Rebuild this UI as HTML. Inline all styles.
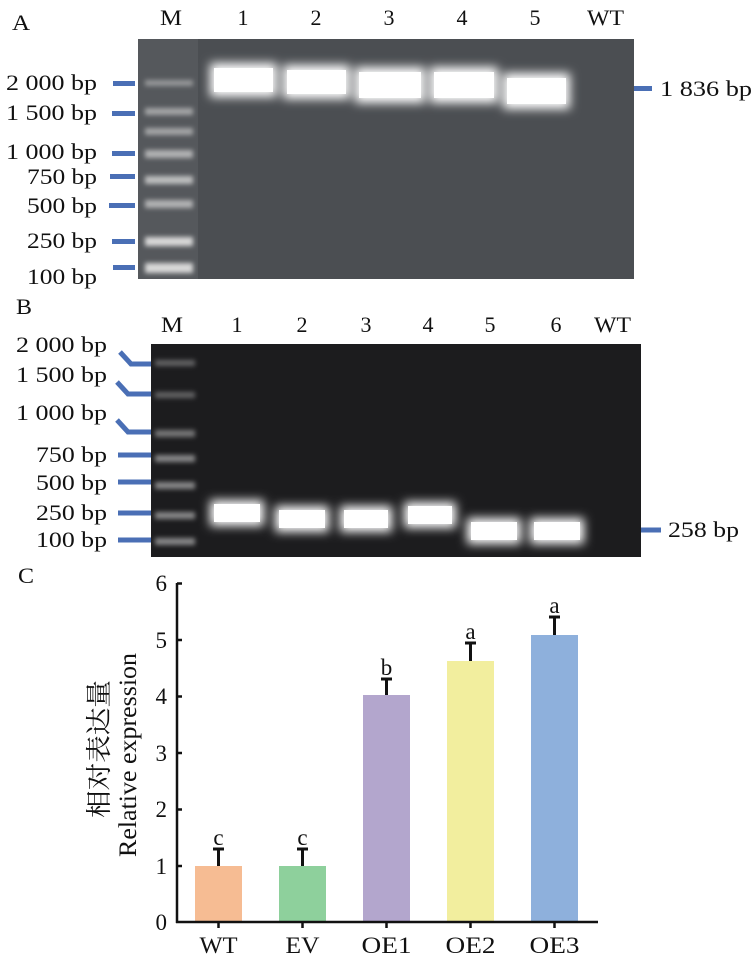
<!DOCTYPE html>
<html><head><meta charset="utf-8"><style>
body{margin:0;background:#fff;width:756px;height:960px;overflow:hidden}
svg{display:block}
text{font-family:"Liberation Serif","Noto Serif CJK SC",serif;fill:#111}
</style></head><body>
<svg width="756" height="960" viewBox="0 0 756 960" xmlns="http://www.w3.org/2000/svg">
<defs>
<filter id="blur" x="-30%" y="-100%" width="160%" height="300%"><feGaussianBlur stdDeviation="5"/></filter>
<filter id="blur2" x="-30%" y="-100%" width="160%" height="300%"><feGaussianBlur stdDeviation="2.5"/></filter>
</defs>
<!-- Panel A -->
<g font-size="22">
<text x="12" y="30" textLength="18" lengthAdjust="spacingAndGlyphs">A</text>
<text x="160" y="25" textLength="22" lengthAdjust="spacingAndGlyphs">M</text>
<text x="243" y="25" text-anchor="middle">1</text>
<text x="316" y="25" text-anchor="middle">2</text>
<text x="389" y="25" text-anchor="middle">3</text>
<text x="462" y="25" text-anchor="middle">4</text>
<text x="535" y="25" text-anchor="middle">5</text>
<text x="587" y="25" textLength="37" lengthAdjust="spacingAndGlyphs">WT</text>
</g>
<rect x="138" y="39" width="496" height="240" fill="#4b4e52"/>
<rect x="138" y="39" width="60" height="240" fill="#55585c"/>
<g fill="#d8d8d8" filter="url(#blur2)">
<rect x="145" y="80" width="48" height="6" opacity=".5"/>
<rect x="145" y="108" width="48" height="7" opacity=".6"/>
<rect x="145" y="128" width="48" height="7" opacity=".6"/>
<rect x="145" y="150" width="48" height="8" opacity=".7"/>
<rect x="145" y="176" width="48" height="8" opacity=".8"/>
<rect x="145" y="200" width="48" height="8" opacity=".7"/>
<rect x="145" y="237" width="48" height="9"/>
<rect x="145" y="263" width="48" height="10"/>
</g>
<g fill="#fff" filter="url(#blur)">
<rect x="210" y="63" width="67" height="34"/>
<rect x="283" y="65" width="67" height="34"/>
<rect x="355" y="67" width="70" height="36"/>
<rect x="430" y="67" width="68" height="36"/>
<rect x="503" y="73" width="67" height="36"/>
</g>
<g fill="#fff">
<rect x="214" y="68" width="59" height="24"/>
<rect x="287" y="70" width="59" height="24"/>
<rect x="359" y="72" width="62" height="26"/>
<rect x="434" y="72" width="60" height="26"/>
<rect x="507" y="78" width="59" height="26"/>
</g>
<g fill="#4a6fb5">
<rect x="113" y="81" width="22" height="5"/>
<rect x="112" y="111" width="23" height="5"/>
<rect x="112" y="151" width="23" height="5"/>
<rect x="110" y="174" width="25" height="5"/>
<rect x="109" y="203" width="26" height="5"/>
<rect x="112" y="239" width="23" height="5"/>
<rect x="113" y="265" width="22" height="5"/>
<rect x="634" y="86" width="18" height="5"/>
</g>
<g font-size="22">
<text x="6" y="90" textLength="91" lengthAdjust="spacingAndGlyphs">2 000 bp</text>
<text x="6" y="120" textLength="91" lengthAdjust="spacingAndGlyphs">1 500 bp</text>
<text x="6" y="159" textLength="91" lengthAdjust="spacingAndGlyphs">1 000 bp</text>
<text x="27" y="184" textLength="70" lengthAdjust="spacingAndGlyphs">750 bp</text>
<text x="27" y="213" textLength="70" lengthAdjust="spacingAndGlyphs">500 bp</text>
<text x="27" y="248" textLength="70" lengthAdjust="spacingAndGlyphs">250 bp</text>
<text x="27" y="284" textLength="70" lengthAdjust="spacingAndGlyphs">100 bp</text>
<text x="660" y="96" textLength="92" lengthAdjust="spacingAndGlyphs">1 836 bp</text>
</g>

<!-- Panel B -->
<g font-size="22">
<text x="16" y="314" textLength="16" lengthAdjust="spacingAndGlyphs">B</text>
<text x="161" y="332" textLength="22" lengthAdjust="spacingAndGlyphs">M</text>
<text x="237" y="332" text-anchor="middle">1</text>
<text x="302" y="332" text-anchor="middle">2</text>
<text x="366" y="332" text-anchor="middle">3</text>
<text x="428" y="332" text-anchor="middle">4</text>
<text x="490" y="332" text-anchor="middle">5</text>
<text x="556" y="332" text-anchor="middle">6</text>
<text x="594" y="332" textLength="37" lengthAdjust="spacingAndGlyphs">WT</text>
</g>
<rect x="151" y="344" width="490" height="213" fill="#1c1c1e"/>
<g fill="#cfcfcf" filter="url(#blur2)">
<rect x="155" y="360" width="40" height="6" opacity=".4"/>
<rect x="155" y="392" width="40" height="6" opacity=".4"/>
<rect x="155" y="430" width="40" height="7" opacity=".5"/>
<rect x="155" y="455" width="40" height="7" opacity=".6"/>
<rect x="155" y="482" width="40" height="7" opacity=".6"/>
<rect x="155" y="512" width="40" height="7" opacity=".6"/>
<rect x="155" y="538" width="40" height="7" opacity=".6"/>
</g>
<g fill="#fff" filter="url(#blur)">
<rect x="210" y="500" width="54" height="26"/>
<rect x="275" y="506" width="54" height="26"/>
<rect x="340" y="506" width="52" height="26"/>
<rect x="404" y="502" width="52" height="26"/>
<rect x="467" y="518" width="54" height="26"/>
<rect x="530" y="518" width="54" height="26"/>
</g>
<g fill="#fff">
<rect x="214" y="504" width="46" height="18"/>
<rect x="279" y="510" width="46" height="18"/>
<rect x="344" y="510" width="44" height="18"/>
<rect x="408" y="506" width="44" height="18"/>
<rect x="471" y="522" width="46" height="18"/>
<rect x="534" y="522" width="46" height="18"/>
</g>
<g stroke="#4a6fb5" stroke-width="5" fill="none">
<polyline points="120,352 131,364 151,364"/>
<polyline points="117,382 128,394 151,394"/>
<polyline points="117,420 128,432 151,432"/>
<line x1="118" y1="455" x2="151" y2="455"/>
<line x1="118" y1="482" x2="151" y2="482"/>
<line x1="118" y1="513" x2="151" y2="513"/>
<line x1="118" y1="540" x2="151" y2="540"/>
<line x1="641" y1="530" x2="661" y2="530"/>
</g>
<g font-size="22">
<text x="16" y="352" textLength="91" lengthAdjust="spacingAndGlyphs">2 000 bp</text>
<text x="16" y="382" textLength="91" lengthAdjust="spacingAndGlyphs">1 500 bp</text>
<text x="16" y="420" textLength="91" lengthAdjust="spacingAndGlyphs">1 000 bp</text>
<text x="36" y="462" textLength="71" lengthAdjust="spacingAndGlyphs">750 bp</text>
<text x="36" y="490" textLength="71" lengthAdjust="spacingAndGlyphs">500 bp</text>
<text x="36" y="520" textLength="71" lengthAdjust="spacingAndGlyphs">250 bp</text>
<text x="36" y="547" textLength="71" lengthAdjust="spacingAndGlyphs">100 bp</text>
<text x="668" y="537" textLength="71" lengthAdjust="spacingAndGlyphs">258 bp</text>
</g>

<!-- Panel C -->
<text x="18" y="583" font-size="22" textLength="16" lengthAdjust="spacingAndGlyphs">C</text>
<g>
<rect x="195" y="866" width="47" height="56" fill="#f6bc93"/>
<rect x="279" y="866" width="47" height="56" fill="#8ed09c"/>
<rect x="363" y="695" width="47" height="227" fill="#b3a6cd"/>
<rect x="447" y="661" width="47" height="261" fill="#f2ee9e"/>
<rect x="531" y="635" width="47" height="287" fill="#8eb0dc"/>
</g>
<g stroke="#111" stroke-width="3" fill="none">
<line x1="218.5" y1="866" x2="218.5" y2="849"/><line x1="213" y1="849" x2="224" y2="849"/>
<line x1="302.5" y1="866" x2="302.5" y2="849"/><line x1="297" y1="849" x2="308" y2="849"/>
<line x1="386.5" y1="695" x2="386.5" y2="679"/><line x1="381" y1="679" x2="392" y2="679"/>
<line x1="470.5" y1="661" x2="470.5" y2="643"/><line x1="465" y1="643" x2="476" y2="643"/>
<line x1="554.5" y1="635" x2="554.5" y2="617"/><line x1="549" y1="617" x2="560" y2="617"/>
</g>
<g stroke="#111" stroke-width="2.5" fill="none">
<line x1="177" y1="583" x2="177" y2="923"/>
<line x1="176" y1="922" x2="598" y2="922"/>
<line x1="177" y1="583.5" x2="182" y2="583.5"/>
<line x1="177" y1="640" x2="182" y2="640"/>
<line x1="177" y1="696.5" x2="182" y2="696.5"/>
<line x1="177" y1="753" x2="182" y2="753"/>
<line x1="177" y1="809.5" x2="182" y2="809.5"/>
<line x1="177" y1="866" x2="182" y2="866"/>
<line x1="218.5" y1="922" x2="218.5" y2="928"/>
<line x1="302.5" y1="922" x2="302.5" y2="928"/>
<line x1="386.5" y1="922" x2="386.5" y2="928"/>
<line x1="470.5" y1="922" x2="470.5" y2="928"/>
<line x1="554.5" y1="922" x2="554.5" y2="928"/>
</g>
<g font-size="23" text-anchor="end">
<text x="167" y="591">6</text>
<text x="167" y="648">5</text>
<text x="167" y="704">4</text>
<text x="167" y="761">3</text>
<text x="167" y="817">2</text>
<text x="167" y="874">1</text>
<text x="167" y="930">0</text>
</g>
<g font-size="23">
<text x="199.5" y="953" textLength="38" lengthAdjust="spacingAndGlyphs">WT</text>
<text x="285.5" y="953" textLength="34" lengthAdjust="spacingAndGlyphs">EV</text>
<text x="361.5" y="953" textLength="50" lengthAdjust="spacingAndGlyphs">OE1</text>
<text x="445.5" y="953" textLength="50" lengthAdjust="spacingAndGlyphs">OE2</text>
<text x="529.5" y="953" textLength="50" lengthAdjust="spacingAndGlyphs">OE3</text>
</g>
<g font-size="23" text-anchor="middle">
<text x="218.5" y="845">c</text>
<text x="302.5" y="845">c</text>
<text x="386.5" y="675">b</text>
<text x="470.5" y="639">a</text>
<text x="554.5" y="613">a</text>
</g>
<text transform="translate(108,818) rotate(-90)" font-size="26" textLength="138" lengthAdjust="spacingAndGlyphs">相对表达量</text>
<text transform="translate(136,857) rotate(-90)" font-size="25" textLength="204" lengthAdjust="spacingAndGlyphs">Relative expression</text>
</svg>
</body></html>
